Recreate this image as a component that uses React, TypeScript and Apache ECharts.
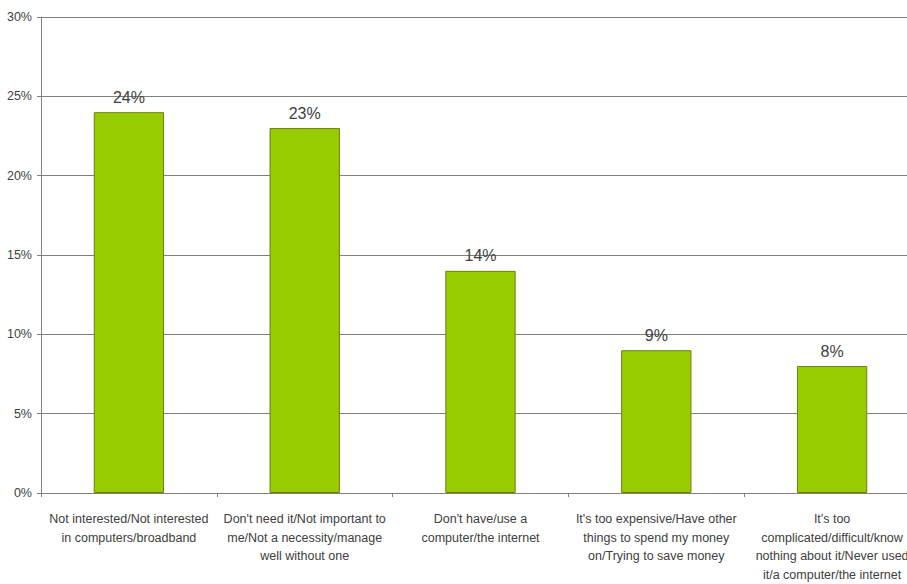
import React, { useEffect, useRef } from "react";
import * as echarts from "echarts";

const categories = [
  "Not interested/Not interested\nin computers/broadband",
  "Don't need it/Not important to\nme/Not a necessity/manage\nwell without one",
  "Don't have/use a\ncomputer/the internet",
  "It's too expensive/Have other\nthings to spend my money\non/Trying to save money",
  "It's too\ncomplicated/difficult/know\nnothing about it/Never used\nit/a computer/the internet",
];
const values = [24, 23, 14, 9, 8];

export default function App() {
  const ref = useRef<HTMLDivElement>(null);
  useEffect(() => {
    const chart = echarts.init(ref.current!, null, { renderer: "svg" });
    chart.setOption({
      animation: false,
      backgroundColor: "#ffffff",
      grid: { left: 41, right: 20, top: 17, bottom: 89, containLabel: false },
      xAxis: {
        type: "category",
        data: categories,
        axisLine: { show: true, lineStyle: { color: "#808080", width: 1 } },
        axisTick: { show: true, alignWithLabel: false, length: 4, lineStyle: { color: "#808080" } },
        axisLabel: {
          interval: 0,
          color: "#404040",
          fontFamily: "Liberation Sans, Arial, sans-serif",
          fontSize: 12.5,
          lineHeight: 18.5,
          margin: 17,
          align: "center",
        },
      },
      yAxis: {
        type: "value",
        min: 0,
        max: 30,
        interval: 5,
        axisLine: { show: true, lineStyle: { color: "#808080", width: 1 } },
        axisTick: { show: true, length: 4, lineStyle: { color: "#808080" } },
        splitLine: { show: true, lineStyle: { color: "#808080", width: 1 } },
        axisLabel: {
          formatter: "{value}%",
          color: "#404040",
          fontFamily: "Liberation Sans, Arial, sans-serif",
          fontSize: 12.5,
          margin: 9,
        },
      },
      series: [
        {
          type: "bar",
          data: values,
          barWidth: "40%",
          itemStyle: { color: "#99cc00", borderColor: "#6b7f10", borderWidth: 1 },
          label: {
            show: true,
            position: "top",
            distance: 7,
            formatter: "{c}%",
            color: "#404040",
            fontFamily: "Liberation Sans, Arial, sans-serif",
            fontSize: 16,
          },
        },
      ],
    });
    return () => chart.dispose();
  }, []);
  return (
    <div
      style={{
        position: "fixed",
        left: 0,
        top: 0,
        width: 907,
        height: 584,
        overflow: "hidden",
        background: "#ffffff",
      }}
    >
      <div ref={ref} style={{ width: 940, height: 584 }} />
    </div>
  );
}
